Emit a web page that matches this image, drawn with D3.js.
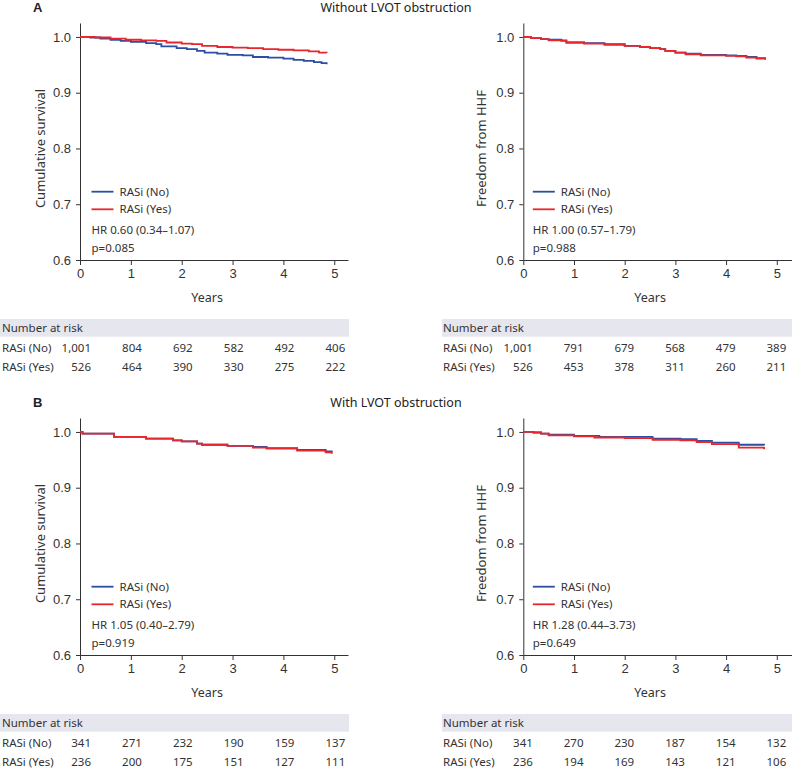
<!DOCTYPE html>
<html>
<head>
<meta charset="utf-8">
<script src="https://cdn.jsdelivr.net/npm/d3@7"></script>
<style>
  body { margin: 0; background: #fff; }
  svg { display: block; }
  .tick text { font-family: "Liberation Sans", Arial, sans-serif; font-size: 13px; fill: #333; }
  .domain, .tick line { stroke: #333; }
</style>
</head>
<body>
<div id="chart"></div>
<script>
// Kaplan-Meier curves
const years = [0, 1, 2, 3, 4, 5];
const yTicks = [0.6, 0.7, 0.8, 0.9, 1.0];

// A, overall survival, without LVOT obstruction
const a1NoTime = [0, 0.2, 0.4, 0.6, 0.8, 1.0, 1.3, 1.5, 1.6, 1.9, 2.1, 2.3, 2.45, 2.7, 2.9, 3.2, 3.4, 3.7, 4.0, 4.2, 4.4, 4.6, 4.75, 4.85];
const a1NoSurv = [1.0, 0.999, 0.997, 0.995, 0.993, 0.991, 0.989, 0.987, 0.983, 0.980, 0.978, 0.975, 0.972, 0.970, 0.968, 0.967, 0.964, 0.963, 0.961, 0.959, 0.957, 0.955, 0.953, 0.951];
const a1YesTime = [0, 0.3, 0.6, 0.9, 1.2, 1.5, 1.7, 2.0, 2.2, 2.4, 2.7, 3.0, 3.3, 3.6, 3.9, 4.2, 4.5, 4.7, 4.85];
const a1YesSurv = [1.0, 0.999, 0.997, 0.995, 0.994, 0.993, 0.990, 0.988, 0.987, 0.984, 0.982, 0.981, 0.980, 0.978, 0.977, 0.976, 0.974, 0.972, 0.971];

// A, freedom from HHF, without LVOT obstruction
const a2NoTime = [0, 0.15, 0.35, 0.5, 0.75, 0.85, 1.2, 1.6, 2.0, 2.3, 2.5, 2.7, 2.8, 3.0, 3.2, 3.5, 4.0, 4.2, 4.4, 4.6, 4.77];
const a2NoSurv = [1.0, 0.998, 0.996, 0.995, 0.994, 0.990, 0.989, 0.987, 0.984, 0.982, 0.980, 0.978, 0.975, 0.972, 0.970, 0.968, 0.967, 0.966, 0.964, 0.962, 0.960];
const a2YesTime = [0, 0.15, 0.35, 0.5, 0.75, 0.85, 1.2, 1.6, 2.0, 2.3, 2.5, 2.7, 2.8, 3.0, 3.2, 3.5, 4.0, 4.2, 4.4, 4.6, 4.77];
const a2YesSurv = [1.0, 0.998, 0.996, 0.994, 0.993, 0.990, 0.988, 0.986, 0.984, 0.982, 0.980, 0.978, 0.975, 0.972, 0.969, 0.967, 0.966, 0.965, 0.963, 0.961, 0.959];

// B, overall survival, with LVOT obstruction
const b1NoTime = [0, 0.05, 0.67, 1.3, 1.83, 2.0, 2.3, 2.4, 2.9, 3.4, 3.67, 4.27, 4.83, 4.95];
const b1NoSurv = [1.0, 0.997, 0.991, 0.988, 0.985, 0.983, 0.979, 0.977, 0.975, 0.973, 0.971, 0.968, 0.965, 0.963];
const b1YesTime = [0, 0.05, 0.67, 1.3, 1.83, 2.0, 2.3, 2.4, 2.9, 3.4, 3.67, 4.27, 4.83, 4.95];
const b1YesSurv = [1.0, 0.997, 0.991, 0.988, 0.985, 0.983, 0.979, 0.977, 0.975, 0.972, 0.970, 0.9665, 0.9635, 0.961];

// B, freedom from HHF, with LVOT obstruction
const b2NoTime = [0, 0.2, 0.35, 0.5, 1.0, 1.5, 2.55, 3.1, 3.42, 3.72, 4.25, 4.75];
const b2NoSurv = [1.0, 0.999, 0.997, 0.995, 0.993, 0.991, 0.988, 0.987, 0.984, 0.981, 0.977, 0.976];
const b2YesTime = [0, 0.2, 0.35, 0.5, 1.0, 1.4, 2.0, 2.55, 3.1, 3.42, 3.72, 4.25, 4.75];
const b2YesSurv = [1.0, 0.999, 0.997, 0.994, 0.992, 0.990, 0.989, 0.986, 0.985, 0.982, 0.978, 0.972, 0.969];

// numbers at risk
const a1RiskNo = ["1,001", "804", "692", "582", "492", "406"];
const a1RiskYes = ["526", "464", "390", "330", "275", "222"];
const a2RiskNo = ["1,001", "791", "679", "568", "479", "389"];
const a2RiskYes = ["526", "453", "378", "311", "260", "211"];
const b1RiskNo = ["341", "271", "232", "190", "159", "137"];
const b1RiskYes = ["236", "200", "175", "151", "127", "111"];
const b2RiskNo = ["341", "270", "230", "187", "154", "132"];
const b2RiskYes = ["236", "194", "169", "143", "121", "106"];

const groupNames = ["RASi (No)", "RASi (Yes)"];
const panelTitles = ["Without LVOT obstruction", "With LVOT obstruction"];
const panelLetters = ["A", "B"];
const yLabels = ["Cumulative survival", "Freedom from HHF"];
const hrTexts = ["HR 0.60 (0.34\u20131.07)", "HR 1.00 (0.57\u20131.79)", "HR 1.05 (0.40\u20132.79)", "HR 1.28 (0.44\u20133.73)"];
const pTexts = ["p=0.085", "p=0.988", "p=0.919", "p=0.649"];

const blue = "#2b4ea3";
const red = "#e8262d";
const textFont = "'Noto Sans', 'Open Sans', sans-serif";

const svg = d3.select("#chart").append("svg")
    .attr("width", 792)
    .attr("height", 769);

const panels = [
    { row: 0, col: 0, no: [a1NoTime, a1NoSurv], yes: [a1YesTime, a1YesSurv], risk: [a1RiskNo, a1RiskYes], hr: hrTexts[0], p: pTexts[0] },
    { row: 0, col: 1, no: [a2NoTime, a2NoSurv], yes: [a2YesTime, a2YesSurv], risk: [a2RiskNo, a2RiskYes], hr: hrTexts[1], p: pTexts[1] },
    { row: 1, col: 0, no: [b1NoTime, b1NoSurv], yes: [b1YesTime, b1YesSurv], risk: [b1RiskNo, b1RiskYes], hr: hrTexts[2], p: pTexts[2] },
    { row: 1, col: 1, no: [b2NoTime, b2NoSurv], yes: [b2YesTime, b2YesSurv], risk: [b2RiskNo, b2RiskYes], hr: hrTexts[3], p: pTexts[3] }
];

// column layout
const cols = [
    { x0: 80, x1: 348, xmax: 5.27, band0: 0, band1: 349, label: 2, leg: 11.5, num: 11, ylab: 45 },
    { x0: 523.3, x1: 792, xmax: 5.3, band0: 442, band1: 792, label: 443, leg: 9.5, num: 9.5, ylab: 486 }
];
const rowShift = 395;

// panel titles
panelTitles.forEach((t, i) => {
    const dy = i * rowShift;
    svg.append("text")
        .attr("x", 33).attr("y", 12 + dy)
        .style("font-family", "'Liberation Sans', Arial, sans-serif")
        .style("font-weight", "bold").style("font-size", "13px")
        .attr("fill", "#222")
        .text(panelLetters[i]);
    svg.append("text")
        .attr("x", 396).attr("y", 11.5 + dy)
        .attr("text-anchor", "middle")
        .style("font-family", textFont).style("font-size", "12.5px")
        .attr("fill", "#222")
        .text(t);
});

panels.forEach(p => {
    const c = cols[p.col];
    const dy = p.row * rowShift;
    const g = svg.append("g");

    const x = d3.scaleLinear().domain([0, c.xmax]).range([c.x0, c.x1]);
    const y = d3.scaleLinear().domain([0.6, 1.025]).range([260 + dy, 23 + dy]);

    g.append("g")
        .attr("transform", `translate(0,${260 + dy})`)
        .call(d3.axisBottom(x).tickValues(years).tickFormat(d3.format("d")).tickSize(5).tickPadding(4).tickSizeOuter(0));

    g.append("g")
        .attr("transform", `translate(${c.x0},0)`)
        .call(d3.axisLeft(y).tickValues(yTicks).tickFormat(d3.format(".1f")).tickSize(4).tickPadding(5).tickSizeOuter(0));

    g.append("text")
        .attr("x", (x(0) + x(5)) / 2).attr("y", 302 + dy)
        .attr("text-anchor", "middle")
        .style("font-family", textFont).style("font-size", "12.5px")
        .attr("fill", "#333")
        .text("Years");

    g.append("text")
        .attr("transform", `translate(${c.ylab},${(y(0.6) + y(1.0)) / 2}) rotate(-90)`)
        .attr("text-anchor", "middle")
        .style("font-family", textFont).style("font-size", "13px")
        .attr("fill", "#333")
        .text(yLabels[p.col]);

    const line = d3.line()
        .x(d => x(d[0]))
        .y(d => y(d[1]))
        .curve(d3.curveStepAfter);

    [[p.no, blue], [p.yes, red]].forEach(([s, color]) => {
        g.append("path")
            .datum(s[0].map((t, i) => [t, s[1][i]]))
            .attr("d", line)
            .attr("fill", "none")
            .attr("stroke", color)
            .attr("stroke-width", 1.8);
    });

    // legend
    const lx = c.x0 + c.leg;
    [[blue, 191.7], [red, 209.3]].forEach(([color, ly], i) => {
        g.append("line")
            .attr("x1", lx).attr("x2", lx + 22)
            .attr("y1", ly + dy).attr("y2", ly + dy)
            .attr("stroke", color).attr("stroke-width", 1.8);
        g.append("text")
            .attr("x", lx + 28).attr("y", ly + dy)
            .attr("dy", "0.35em")
            .style("font-family", textFont).style("font-size", "11.5px")
            .attr("fill", "#333")
            .text(groupNames[i]);
    });
    [[p.hr, 230], [p.p, 248.3]].forEach(([t, ly]) => {
        g.append("text")
            .attr("x", lx).attr("y", ly + dy)
            .attr("dy", "0.35em")
            .style("font-family", textFont).style("font-size", "11.5px")
            .attr("fill", "#333")
            .text(t);
    });

    // number at risk table
    g.append("rect")
        .attr("x", c.band0).attr("y", 319 + dy)
        .attr("width", c.band1 - c.band0).attr("height", 17.7)
        .attr("fill", "#e6e6ee");
    g.append("text")
        .attr("x", c.label).attr("y", 328 + dy)
        .attr("dy", "0.35em")
        .style("font-family", textFont).style("font-size", "11.5px")
        .attr("fill", "#333")
        .text("Number at risk");

    [348, 366.7].forEach((ry, i) => {
        g.append("text")
            .attr("x", c.label).attr("y", ry + dy)
            .attr("dy", "0.35em")
            .style("font-family", textFont).style("font-size", "11.5px")
            .attr("fill", "#333")
            .text(groupNames[i]);
        g.selectAll(null)
            .data(p.risk[i])
            .enter()
            .append("text")
            .attr("x", (d, j) => x(years[j]) + c.num)
            .attr("y", ry + dy)
            .attr("dy", "0.35em")
            .attr("text-anchor", "end")
            .style("font-family", textFont).style("font-size", "11.5px")
            .attr("fill", "#333")
            .text(d => d);
    });
});
</script>
</body>
</html>
